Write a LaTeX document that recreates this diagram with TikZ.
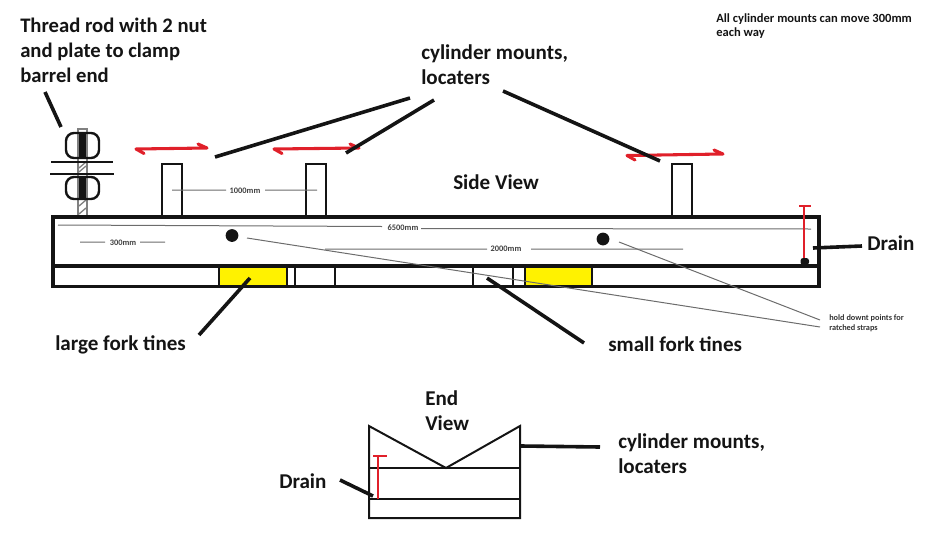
\documentclass[tikz,border=0pt]{standalone}
\usepackage{fontspec}
\setmainfont{Carlito}
\definecolor{redmark}{HTML}{E0202A}
\definecolor{tine}{HTML}{FFF200}
\definecolor{ink}{HTML}{141414}
\tikzset{
  heavy/.style={draw=ink,line width=2.6pt},
  outline/.style={draw=ink,line width=1.8pt},
  frame/.style={draw=ink,line width=1.5pt},
  leader/.style={draw=ink,line width=2.7pt},
  dim/.style={draw=gray!85!black,line width=0.75pt},
  redarrow/.style={draw=redmark,line width=2.3pt,line cap=round,line join=round},
  redline/.style={draw=redmark,line width=1.6pt},
  biglabel/.style={font=\fontsize{15.8pt}{18.6pt}\selectfont\bfseries,text=ink,align=left,anchor=west,inner sep=0pt},
  threadlabel/.style={biglabel,font=\fontsize{15.5pt}{18.8pt}\selectfont\bfseries},
  dimlabel/.style={font=\fontsize{6.3pt}{7pt}\selectfont\bfseries,text=black!75,inner sep=0pt},
  notelabel/.style={font=\fontsize{9.4pt}{10.6pt}\selectfont\bfseries,text=ink,align=left,anchor=west,inner sep=0pt},
  smalllabel/.style={font=\fontsize{6.2pt}{7.6pt}\selectfont\bfseries,text=black!80,align=left,anchor=west,inner sep=0pt},
  hole/.style={circle,fill=ink,minimum size=9.6pt,inner sep=0pt},
}
\begin{document}
\begin{tikzpicture}[x=0.75pt,y=-0.75pt]
\useasboundingbox (0,0) rectangle (939,550);
% yellow tines
\fill[tine] (219,267) rectangle (287,286);
\fill[tine] (526,267) rectangle (592,286);
% threaded rod
\draw[draw=gray,line width=1.1pt] (78,129) rectangle (87,217);
\foreach \ya in {168,172,206,214}{\draw[draw=gray,line width=1pt] (79,\ya) -- (86,\ya-6);}
\fill[ink] (79,133) rectangle (86,158);
\fill[ink] (79,177) rectangle (86,199);
% nuts and plates
\draw[outline,rounded corners=6pt] (66,133) rectangle (99,158);
\draw[outline,rounded corners=6pt] (66,177) rectangle (99,199);
\draw[outline] (51,162) -- (113,162);
\draw[outline] (50,174) -- (114,174);
% cylinder mounts
\draw[outline] (162,217) |- (182,164) -- (182,217);
\draw[outline] (306,217) |- (326,164) -- (326,217);
\draw[outline] (672,217) |- (692,164) -- (692,217);
% main body
\draw[heavy] (53,217) rectangle (819,266);
\draw[heavy] (53,266) -- (53,286.5) -- (819,286.5) -- (819,266);
\draw[outline] (219,266) -- (219,286) (287,266) -- (287,286) (295,266) -- (295,286);
\draw[frame] (335,266) -- (335,286) (473,266) -- (473,286) (513,266) -- (513,286);
\draw[outline] (525,266) -- (525,286) (592,266) -- (592,286);
% hold-down points
\node[hole] (holeA) at (232,235.5) {};
\node[hole] (holeB) at (603,239) {};
% dimension lines
\node[dimlabel] (dimA) at (403,228) {6500mm};
\node[dimlabel] (dimB) at (506,248.5) {2000mm};
\node[dimlabel] (dimC) at (245,190.5) {1000mm};
\node[dimlabel] (dimD) at (123,242.5) {300mm};
\coordinate (a1) at (58,225); \coordinate (a2) at (382,226.5); \coordinate (a3) at (421,228.5); \coordinate (a4) at (811,229);
\coordinate (b1) at (325,249); \coordinate (b2) at (487,249); \coordinate (b3) at (531,249); \coordinate (b4) at (683,249);
\coordinate (c1) at (172,190); \coordinate (c2) at (226,190); \coordinate (c3) at (265,190); \coordinate (c4) at (317,190);
\coordinate (d1) at (80,242); \coordinate (d2) at (105,242); \coordinate (d3) at (140,242); \coordinate (d4) at (165,242);
\draw[dim] (a1) -- (a2) (a3) -- (a4) (b1) -- (b2) (b3) -- (b4) (c1) -- (c2) (c3) -- (c4) (d1) -- (d2) (d3) -- (d4);
% strap lines
\coordinate (s1) at (247,238); \coordinate (s2) at (820,327);
\coordinate (s3) at (619,242); \coordinate (s4) at (820,320);
\draw[dim] (s1) -- (s2) (s3) -- (s4);
% red arrows
\coordinate (r1a) at (136,149); \coordinate (r1b) at (207,148);
\coordinate (r2a) at (274,149); \coordinate (r2b) at (359,148);
\coordinate (r3a) at (627,155.5); \coordinate (r3b) at (723,154);
\foreach \pa/\pb in {r1a/r1b,r2a/r2b,r3a/r3b}{
  \draw[redarrow] ([shift={(8,4.5)}]\pa) -- (\pa) -- (\pb) -- ([shift={(-9,-4)}]\pb);
}
% drain gauge
\draw[redline] (804,206) -- (804,262) (799,206) -- (811,206);
\fill[ink,rounded corners=2pt] (800.5,265) rectangle (809,258);
% labels
\node[threadlabel] (thread) at (20,50) {Thread rod with 2 nut\\and plate to clamp\\barrel end};
\node[biglabel] (mounts) at (421,65) {cylinder mounts,\\locaters};
\node[biglabel] (side) at (453,182) {Side View};
\node[biglabel] (drainA) at (867,243) {Drain};
\node[biglabel] (large) at (55,345) {large fork tines};
\node[biglabel] (small) at (608,344) {small fork tines};
\node[biglabel] (endv) at (425,411) {End\\View};
\node[biglabel] (mountsB) at (618,454) {cylinder mounts,\\locaters};
\node[biglabel] (drainB) at (279,481) {Drain};
\node[notelabel] (note) at (716,26) {All cylinder mounts can move 300mm\\each way};
\node[smalllabel] (hold) at (829,323) {hold downt points for\\ratched straps};
% leaders
\coordinate (l0) at (45,92); \coordinate (l1) at (61,127);
\coordinate (l2) at (215,157); \coordinate (l2b) at (410,98);
\coordinate (l3) at (346,153); \coordinate (l3b) at (434,100);
\coordinate (l4) at (503,91); \coordinate (l4b) at (660,161);
\coordinate (l5) at (813,248); \coordinate (l5b) at (862,246);
\coordinate (l6) at (199,335); \coordinate (l6b) at (250,278);
\coordinate (l7) at (487,278); \coordinate (l7b) at (584,343);
\coordinate (l8) at (521,446); \coordinate (l8b) at (600,447);
\coordinate (l9) at (340,480); \coordinate (l9b) at (373,496);
\draw[leader] (l0) -- (l1);
\draw[leader] (l2) -- (l2b);
\draw[leader] (l3) -- (l3b);
\draw[leader] (l4) -- (l4b);
\draw[leader] (l5) -- (l5b);
\draw[leader] (l6) -- (l6b);
\draw[leader] (l7) -- (l7b);
\draw[leader] (l8) -- (l8b);
\draw[leader] (l9) -- (l9b);
% end view
\draw[frame] (369,426) -- (369,518) -- (520,518) -- (520,426) -- (446,468) -- cycle;
\draw[frame] (369,468) -- (520,468) (369,499) -- (520,499);
\draw[redline] (378,499) -- (378,456) (373,456) -- (387,456);
\end{tikzpicture}
\end{document}
